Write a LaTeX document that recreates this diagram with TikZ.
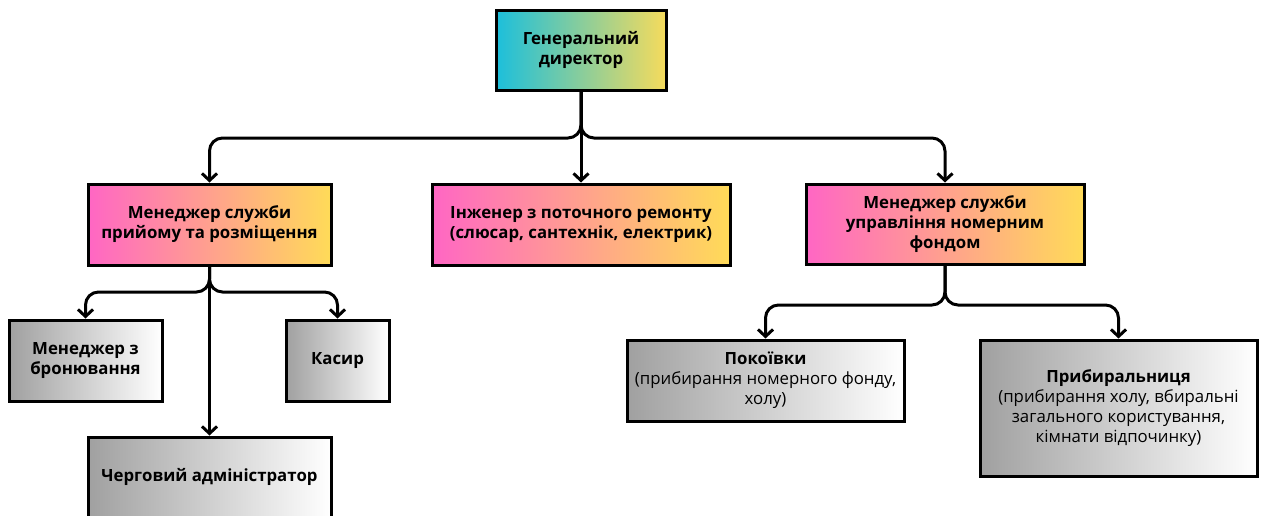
\documentclass[tikz,border=0pt]{standalone}
\usepackage{fontspec}
\setmainfont{Open Sans}
\usetikzlibrary{arrows.meta}

\definecolor{dircyan}{HTML}{1CBFDB}
\definecolor{diryellow}{HTML}{F6DB5C}
\definecolor{mgrpink}{HTML}{FF66C4}
\definecolor{mgryellow}{HTML}{FFDB58}
\definecolor{staffgray}{HTML}{A0A0A0}

\tikzset{
  box/.style={draw=black, line width=3pt, align=center, inner sep=4pt,
    font=\fontsize{16.8}{20}\selectfont},
  topbox/.style={box, font=\bfseries\fontsize{16.8}{20}\selectfont,
    left color=dircyan, right color=diryellow},
  midbox/.style={box, font=\bfseries\fontsize{16.8}{20}\selectfont,
    left color=mgrpink, right color=mgryellow},
  lowbox/.style={box, left color=staffgray, right color=white},
  link/.style={line width=3pt, rounded corners=13pt,
    -{Straight Barb[length=7pt,width=15pt]}}
}

\begin{document}
\begin{tikzpicture} [x=1pt,y=-1pt]
\useasboundingbox (0,0) rectangle (1265,515);
\fill[white] (0,0) rectangle (1265,515);
\clip (0,0) rectangle (1265,515);
%director
        \node[topbox,minimum width=170pt,minimum height=80pt] (dir) at (581,50) {Генеральний\\директор};
%managers
        \node[midbox,minimum width=243pt,minimum height=81pt] (m1) at (209.5,224.5) {Менеджер служби\\прийому та розміщення};
        \node[midbox,minimum width=298pt,minimum height=81pt] (eng) at (581,224.5) {Інженер з поточного ремонту\\(слюсар, сантехнік, електрик)};
        \node[midbox,minimum width=278pt,minimum height=80pt] (m3) at (945,224) {Менеджер служби\\управління номерним\\фондом};
%staff
        \node[lowbox,font=\bfseries\fontsize{16.8}{20}\selectfont,minimum width=153pt,minimum height=81pt] (book) at (85.5,360.5) {Менеджер з\\бронювання};
        \node[lowbox,font=\bfseries\fontsize{16.8}{20}\selectfont,minimum width=103pt,minimum height=81pt] (cash) at (337.5,360.5) {Касир};
        \node[lowbox,font=\bfseries\fontsize{16.8}{20}\selectfont,minimum width=243pt,minimum height=80pt] (duty) at (209.5,477) {Черговий адміністратор};
        \node[lowbox,minimum width=277pt,minimum height=81pt] (maid) at (765.5,380.5) {\textbf{Покоївки}\\(прибирання номерного фонду,\\холу)};
        \node[lowbox,minimum width=277pt,minimum height=136pt] (clean) at (1118.5,408) {\textbf{Прибиральниця}\\(прибирання холу, вбиральні\\загального користування,\\кімнати відпочинку)};

        \coordinate (j1) at (581,138);
        \coordinate (j2) at (209.5,292);
        \coordinate (j3) at (945,305);

        \draw [link] (dir.south) -- (j1) -| (m1.north);
        \draw [link] (dir.south) -- (eng.north);
        \draw [link] (dir.south) -- (j1) -| (m3.north);

        \draw [link] (m1.south) -- (j2) -| (book.north);
        \draw [link] (m1.south) -- (j2) -| (cash.north);
        \draw [link] (m1.south) -- (duty.north);

        \draw [link] (m3.south) -- (j3) -| (maid.north);
        \draw [link] (m3.south) -- (j3) -| (clean.north);
    \end{tikzpicture}
\end{document}
